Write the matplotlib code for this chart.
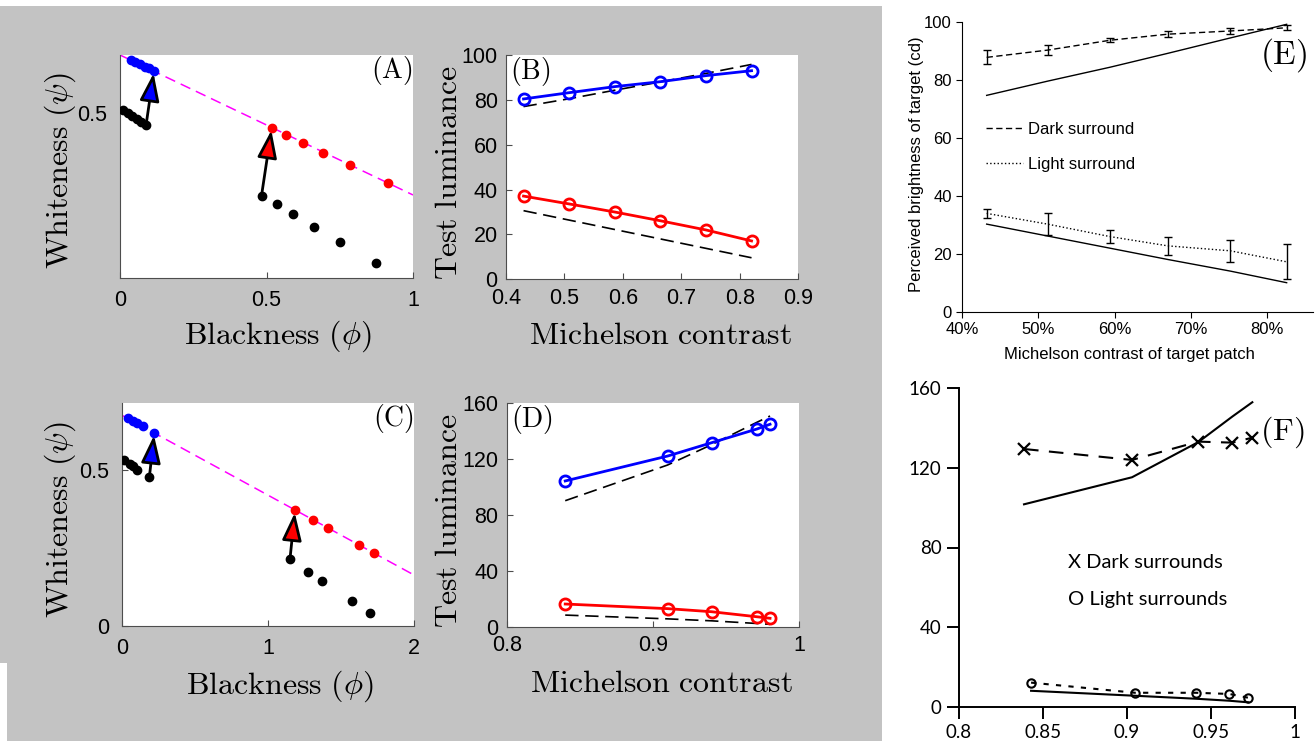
import matplotlib
matplotlib.use('Agg')
import matplotlib.pyplot as plt
from matplotlib.patches import Rectangle
from matplotlib.ticker import PercentFormatter

plt.rcParams['font.family'] = 'Liberation Sans'
plt.rcParams['mathtext.fontset'] = 'cm'

# ---------------- data ----------------
# (A) whiteness vs blackness, low contrast set
a_black_hi_x = [0.011, 0.027, 0.042, 0.058, 0.073, 0.089]
a_black_hi_y = [0.508, 0.500, 0.492, 0.484, 0.475, 0.467]
a_blue_x = [0.036, 0.052, 0.068, 0.084, 0.100, 0.116]
a_blue_y = [0.646, 0.640, 0.634, 0.628, 0.623, 0.617]
a_black_lo_x = [0.483, 0.535, 0.592, 0.663, 0.751, 0.873]
a_black_lo_y = [0.272, 0.249, 0.221, 0.186, 0.144, 0.087]
a_red_x = [0.518, 0.567, 0.623, 0.694, 0.785, 0.914]
a_red_y = [0.460, 0.439, 0.416, 0.390, 0.356, 0.306]
a_guide_x = [0, 1]
a_guide_y = [0.660, 0.274]

# (C) whiteness vs blackness, high contrast set
c_black_hi_x = [0.016, 0.057, 0.079, 0.107, 0.189]
c_black_hi_y = [0.532, 0.521, 0.513, 0.500, 0.477]
c_blue_x = [0.041, 0.075, 0.107, 0.143, 0.223]
c_blue_y = [0.666, 0.658, 0.650, 0.640, 0.620]
c_black_lo_x = [1.150, 1.271, 1.372, 1.572, 1.697]
c_black_lo_y = [0.214, 0.174, 0.144, 0.081, 0.041]
c_red_x = [1.185, 1.310, 1.413, 1.622, 1.727]
c_red_y = [0.372, 0.340, 0.315, 0.261, 0.233]
c_guide_x = [0, 2]
c_guide_y = [0.676, 0.163]

# (B) test luminance vs Michelson contrast
b_x = [0.43, 0.508, 0.586, 0.664, 0.742, 0.82]
b_blue = [80.4, 83.2, 85.9, 88.1, 90.8, 93.0]
b_red = [37.1, 33.6, 30.0, 26.1, 22.0, 17.1]
b_model_hi = [77.0, 80.5, 84.3, 88.0, 91.8, 95.8]
b_model_lo = [30.6, 26.4, 22.2, 18.0, 13.8, 9.6]

# (D)
d_x = [0.84, 0.91, 0.94, 0.971, 0.98]
d_blue = [104.1, 121.9, 131.4, 141.2, 144.6]
d_red = [16.2, 12.9, 10.7, 7.1, 6.0]
d_model_hi = [90.0, 115.5, 130.0, 146.0, 150.5]
d_model_lo = [8.3, 5.6, 4.2, 2.3, 1.7]

# (E) perceived brightness
e_x = [43.2, 51.2, 59.4, 67.0, 75.2, 82.6]
e_dark = [87.7, 90.2, 93.6, 95.7, 96.8, 97.9]
e_dark_err = [2.4, 1.8, 0.7, 1.0, 1.0, 0.8]
e_light = [33.9, 30.2, 25.9, 22.7, 21.0, 17.2]
e_light_err = [1.6, 3.8, 2.2, 3.0, 3.8, 6.0]
e_model_hi = [74.6, 79.5, 84.3, 89.1, 94.4, 99.1]
e_model_lo = [30.2, 26.1, 21.9, 18.0, 14.0, 10.0]

# (F)
f_dark_x = [0.8387, 0.903, 0.9425, 0.9627, 0.9746]
f_dark = [129.5, 124.0, 133.2, 132.7, 135.2]
f_model_dark = [101.7, 115.3, 133.0, 145.8, 153.0]
f_light_x = [0.8429, 0.9048, 0.9411, 0.9609, 0.9722]
f_light = [12.1, 7.0, 7.0, 6.4, 4.5]
f_model_light = [8.0, 5.5, 4.0, 3.0, 2.2]

W, H = 1316, 741
fig = plt.figure(figsize=(W / 100, H / 100), dpi=100)

# gray panel behind A-D
gray = '#c3c3c3'
fig.patches.append(Rectangle((0, 1 - 663 / H), 882 / W, 657 / H, transform=fig.transFigure,
                             facecolor=gray, edgecolor='none', zorder=-1))
fig.patches.append(Rectangle((7 / W, 0), 875 / W, 78 / H, transform=fig.transFigure,
                             facecolor=gray, edgecolor='none', zorder=-1))


def px_axes(x0, y0, x1, y1):
    return fig.add_axes([x0 / W, 1 - y1 / H, (x1 - x0) / W, (y1 - y0) / H])


def matlab_style(ax, pad):
    for s in ['top', 'right']:
        ax.spines[s].set_visible(False)
    for s in ['left', 'bottom']:
        ax.spines[s].set_color('0.3')
    ax.tick_params(direction='in', length=4, labelsize=15.5, pad=pad, color='0.3')


def whiteness_panel(ax, bhx, bhy, blx, bly, bx, by, rx, ry, gx, gy, letter):
    ax.plot(gx, gy, color='magenta', lw=1.1, dashes=(7, 4), zorder=1)
    ax.annotate('', xy=(bx[-1], by[-1]), xytext=(bhx[-1], bhy[-1]),
                arrowprops=dict(arrowstyle='-|>,head_length=0.85,head_width=0.3', mutation_scale=20,
                                lw=2, ec='black', fc='blue', shrinkA=0, shrinkB=2), zorder=2)
    ax.annotate('', xy=(rx[0], ry[0]), xytext=(blx[0], bly[0]),
                arrowprops=dict(arrowstyle='-|>,head_length=0.85,head_width=0.3', mutation_scale=20,
                                lw=2, ec='black', fc='red', shrinkA=0, shrinkB=2), zorder=2)
    ax.plot(bhx, bhy, 'o', color='black', ms=6, zorder=3)
    ax.plot(blx, bly, 'o', color='black', ms=6, zorder=3)
    ax.plot(bx, by, 'o', color='blue', ms=6, zorder=3)
    ax.plot(rx, ry, 'o', color='red', ms=6, zorder=3)
    ax.set_ylabel(r'$\mathrm{Whiteness}\ (\psi)$', fontsize=23)
    ax.set_xlabel(r'$\mathrm{Blackness}\ (\phi)$', fontsize=23)
    ax.text(1.0, 0.93, r'$\mathrm{(' + letter + ')}$', transform=ax.transAxes, ha='right', va='center',
            fontsize=20)


def contrast_panel(ax, x, blue, red, mhi, mlo, letter):
    ax.plot(x, mhi, color='black', lw=1.2, dashes=(8, 4))
    ax.plot(x, mlo, color='black', lw=1.2, dashes=(8, 4))
    ax.plot(x, blue, '-o', color='blue', lw=2, ms=8, mfc='none', mew=2)
    ax.plot(x, red, '-o', color='red', lw=2, ms=8, mfc='none', mew=2)
    ax.set_ylabel(r'$\mathrm{Test\ luminance}$', fontsize=23)
    ax.set_xlabel(r'$\mathrm{Michelson\ contrast}$', fontsize=23)
    ax.text(0.015, 0.925, r'$\mathrm{(' + letter + ')}$', transform=ax.transAxes, ha='left', va='center',
            fontsize=20)


# (A)
ax = px_axes(120, 55, 413, 278)
whiteness_panel(ax, a_black_hi_x, a_black_hi_y, a_black_lo_x, a_black_lo_y,
                a_blue_x, a_blue_y, a_red_x, a_red_y, a_guide_x, a_guide_y, 'A')
ax.set_xlim(0, 1)
ax.set_ylim(0.045, 0.66)
ax.set_xticks([0, 0.5, 1], ['0', '0.5', '1'])
ax.set_yticks([0.5], ['0.5'])
matlab_style(ax, 9)
ax.xaxis.set_label_coords(0.54, -0.18)
ax.yaxis.set_label_coords(-0.145, 0.48)

# (C)
ax = px_axes(121.7, 402.7, 414.3, 626)
whiteness_panel(ax, c_black_hi_x, c_black_hi_y, c_black_lo_x, c_black_lo_y,
                c_blue_x, c_blue_y, c_red_x, c_red_y, c_guide_x, c_guide_y, 'C')
ax.set_xlim(0, 2)
ax.set_ylim(0, 0.716)
ax.set_xticks([0, 1, 2], ['0', '1', '2'])
ax.set_yticks([0, 0.5], ['0', '0.5'])
matlab_style(ax, 9)
ax.xaxis.set_label_coords(0.54, -0.19)
ax.yaxis.set_label_coords(-0.15, 0.475)

# (B)
ax = px_axes(506, 55, 798.3, 279.3)
contrast_panel(ax, b_x, b_blue, b_red, b_model_hi, b_model_lo, 'B')
ax.set_xlim(0.4, 0.9)
ax.set_ylim(0, 100)
ax.set_xticks([0.4, 0.5, 0.6, 0.7, 0.8, 0.9], ['0.4', '0.5', '0.6', '0.7', '0.8', '0.9'])
ax.set_yticks([0, 20, 40, 60, 80, 100])
matlab_style(ax, 6)
ax.xaxis.set_label_coords(0.527, -0.185)
ax.yaxis.set_label_coords(-0.145, 0.473)

# (D)
ax = px_axes(506.7, 402.7, 799.3, 626.7)
contrast_panel(ax, d_x, d_blue, d_red, d_model_hi, d_model_lo, 'D')
ax.set_xlim(0.8, 1)
ax.set_ylim(0, 160)
ax.set_xticks([0.8, 0.9, 1], ['0.8', '0.9', '1'])
ax.set_yticks([0, 40, 80, 120, 160])
matlab_style(ax, 6)
ax.xaxis.set_label_coords(0.527, -0.19)
ax.yaxis.set_label_coords(-0.145, 0.473)

# (E)
ax = px_axes(962.3, 21.7, 1313.3, 311.7)
ax.plot(e_x, e_model_hi, color='black', lw=1)
ax.plot(e_x, e_model_lo, color='black', lw=1)
ax.plot(e_x, e_dark, color='black', lw=1, dashes=(4.5, 2.5), label='Dark surround')
ax.plot(e_x, e_light, color='black', lw=1, ls=':', label='Light surround')
ax.errorbar(e_x, e_dark, yerr=e_dark_err, fmt='none', ecolor='black', elinewidth=1, capsize=3)
ax.errorbar(e_x, e_light, yerr=e_light_err, fmt='none', ecolor='black', elinewidth=1, capsize=3)
ax.set_xlim(40, 86.1)
ax.set_ylim(0, 100)
ax.set_xticks([40, 50, 60, 70, 80])
ax.set_yticks([0, 20, 40, 60, 80, 100])
ax.xaxis.set_major_formatter(PercentFormatter(decimals=0))
for s in ['top', 'right']:
    ax.spines[s].set_visible(False)
ax.tick_params(direction='out', length=4, labelsize=12)
ax.set_ylabel('Perceived brightness of target (cd)', fontsize=12)
ax.set_xlabel('Michelson contrast of target patch', fontsize=12)
ax.yaxis.set_label_coords(-0.11, 0.51)
ax.xaxis.set_label_coords(0.475, -0.12)
ax.legend(loc='upper left', bbox_to_anchor=(0.068, 0.655), frameon=False, fontsize=12,
          handlelength=2.2, handletextpad=0.3, labelspacing=1.22, borderpad=0, borderaxespad=0)
ax.text(0.848, 0.885, r'$\mathrm{(E)}$', transform=ax.transAxes, ha='left', va='center', fontsize=24)

# (F)
ax = px_axes(959, 388.3, 1295, 706.7)
ax.plot(f_dark_x, f_model_dark, color='black', lw=1.5)
ax.plot(f_light_x, f_model_light, color='black', lw=1.5)
ax.plot(f_dark_x, f_dark, color='black', lw=1.5, dashes=(7, 5), marker='x', ms=8, mew=1.6)
ax.plot(f_light_x, f_light, color='black', lw=1.5, dashes=(2.5, 3.5), marker='o', ms=6, mfc='none', mew=1.5)
ax.set_xlim(0.8, 1)
ax.set_ylim(0, 160)
ax.set_xticks([0.8, 0.85, 0.9, 0.95, 1], ['0.8', '0.85', '0.9', '0.95', '1'])
ax.set_yticks([0, 40, 80, 120, 160])
for s in ['top', 'right']:
    ax.spines[s].set_visible(False)
for s in ['left', 'bottom']:
    ax.spines[s].set_linewidth(1.4)
ax.tick_params(direction='out', length=8.5, width=1.4, pad=4, labelsize=13.5, labelfontfamily='Lato')
ax.text(0.325, 0.452, 'X Dark surrounds', transform=ax.transAxes, va='center', fontsize=14.5, family='Lato')
ax.text(0.325, 0.337, 'O Light surrounds', transform=ax.transAxes, va='center', fontsize=14.5, family='Lato')
ax.text(0.896, 0.863, r'$\mathrm{(F)}$', transform=ax.transAxes, ha='left', va='center', fontsize=23,
        clip_on=False)

fig.savefig('out.png', dpi=100)
